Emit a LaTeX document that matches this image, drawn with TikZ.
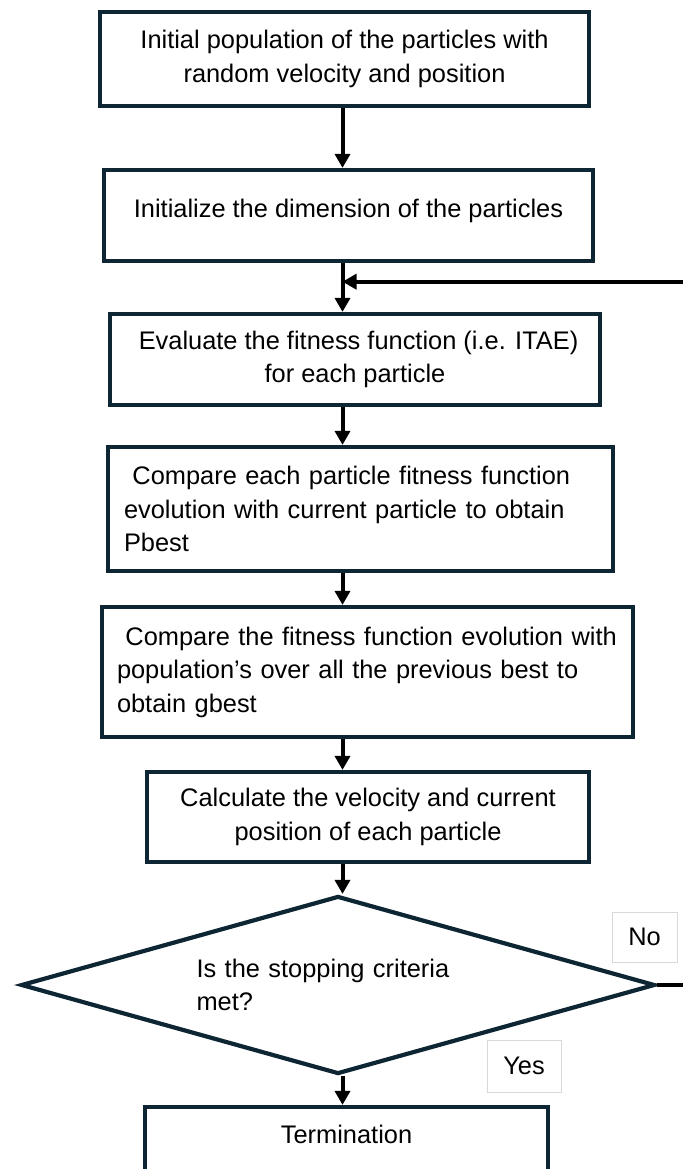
\documentclass[tikz,border=0pt]{standalone}
\usepackage{fontspec}
\setmainfont{Liberation Sans}
\usetikzlibrary{shapes.geometric,arrows.meta}
\definecolor{boxline}{RGB}{14,38,52}

\begin{document}
\begin{tikzpicture}[x=1pt, y=-1pt,
  font=\fontsize{25.4pt}{33.5pt}\selectfont,
  stepbox/.style={draw=boxline, line width=4.2pt, shape=rectangle, inner sep=0pt, align=center},
  decide/.style={draw=boxline, line width=4.2pt, shape=diamond, inner sep=0pt, align=left},
  tagbox/.style={draw=gray!30, line width=0.8pt, shape=rectangle, inner sep=0pt},
  flow/.style={line width=4pt, -{Triangle[width=15pt,length=14pt]}}]
\useasboundingbox (0,0) rectangle (683,1169);
\clip (0,0) rectangle (683,1169);
\coordinate (axis) at (342.5,0);
\coordinate (loopin) at (683,281.7);

\node[stepbox, minimum width=489pt, minimum height=94pt] (init) at (344.5,59) {Initial population of the particles with\\random velocity and position};
\node[stepbox, minimum width=489pt, minimum height=91pt, text depth=15pt] (dim) at (348.5,215.5) {Initialize the dimension of the particles};
\node[stepbox, minimum width=490pt, minimum height=91pt] (eval) at (355,359.5) {~Evaluate the fitness function (i.e. ITAE)\\for each particle};
\node[stepbox, minimum width=505pt, minimum height=124pt, text width=473pt, align=left] (pbest) at (360.5,509) {\mbox{~Compare each particle fitness function}\\\mbox{evolution with current particle to obtain}\\Pbest};
\node[stepbox, minimum width=531pt, minimum height=130pt, text width=501pt, align=left] (gbest) at (367.5,672) {\mbox{~Compare the fitness function evolution with}\\population’s over all the previous best to\\obtain gbest};
\node[stepbox, minimum width=442pt, minimum height=90pt] (update) at (368,817) {Calculate the velocity and current\\position of each particle};
\node[decide, minimum width=634pt, minimum height=178pt, shape aspect=3.55, text width=283pt] (stop) at (338,985) {Is the stopping criteria\\met?};
\node[stepbox, minimum width=403pt, minimum height=93pt, text height=19pt, text depth=40pt] (term) at (346.5,1153.5) {Termination};
\node[tagbox, minimum width=65pt, minimum height=50pt] (no) at (644.5,937) {No};
\node[tagbox, minimum width=74pt, minimum height=52pt] (yes) at (524,1066) {Yes};

\draw[flow] (init.south -| axis) -- (dim.north -| axis);
\draw[flow] (dim.south -| axis) -- (eval.north -| axis);
\draw[flow] (eval.south -| axis) -- (pbest.north -| axis);
\draw[flow] (pbest.south -| axis) -- (gbest.north -| axis);
\draw[flow] (gbest.south -| axis) -- (update.north -| axis);
\draw[flow] (update.south -| axis) -- (stop.north -| axis);
\draw[flow] (stop.south -| axis) -- (term.north -| axis);
\draw[flow] (loopin) -- (loopin -| axis);
\draw[line width=4pt] (stop.east) -- (stop.east -| loopin);
\end{tikzpicture}
\end{document}
